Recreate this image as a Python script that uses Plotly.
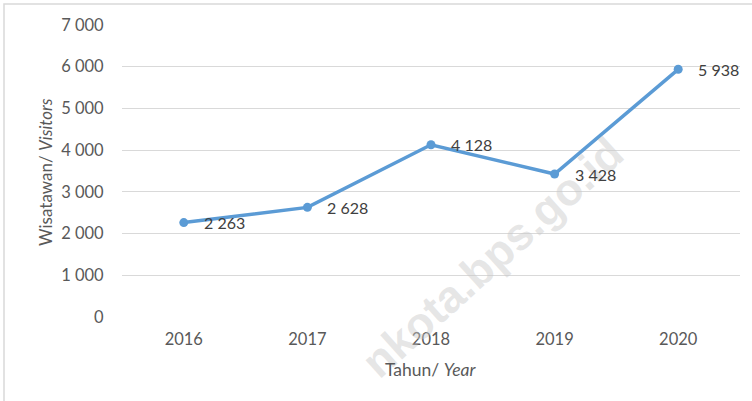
import plotly.graph_objects as go

years = ["2016", "2017", "2018", "2019", "2020"]
visitors = [2263, 2628, 4128, 3428, 5938]
y_tickvals = [0, 1000, 2000, 3000, 4000, 5000, 6000, 7000]
y_ticktext = ["0", "1 000", "2 000", "3 000", "4 000", "5 000", "6 000", "7 000"]
value_labels = ["2 263", "2 628", "4 128", "3 428", "5 938"]

FONT = "Lato"

fig = go.Figure()
fig.add_trace(go.Scatter(
    x=years, y=visitors, mode="lines+markers",
    line=dict(color="#5B9BD5", width=3.5),
    marker=dict(color="#5B9BD5", size=9),
    cliponaxis=False, showlegend=False, hoverinfo="skip",
))

annotations = [
    dict(text="<b>nkota.bps.go.id</b>", xref="paper", yref="paper",
         x=(492 - 122) / 618, y=(317 - 257) / 292, showarrow=False,
         textangle=-42,
         font=dict(family="Liberation Sans", size=45, color="rgba(200,200,200,0.45)"),
         xanchor="center", yanchor="middle"),
]
annotations += [
    dict(x=i, y=v, xref="x", yref="y", text=lbl, showarrow=False,
         xanchor="left", yanchor="middle", xshift=18,
         font=dict(family=FONT, size=16, color="#404040"))
    for i, (v, lbl) in enumerate(zip(visitors, value_labels))
]
annotations += [
    dict(text="Tahun/ <i>Year</i>", xref="paper", yref="paper",
         x=(430 - 122) / 618, y=-(369 - 317) / 292, showarrow=False,
         font=dict(family=FONT, size=17.5, color="#595959"),
         xanchor="center", yanchor="middle"),
    dict(text="Wisatawan/ <i>Visitors</i>", xref="paper", yref="paper",
         x=-(122 - 45) / 618, y=(317 - 172) / 292, showarrow=False,
         textangle=-90,
         font=dict(family=FONT, size=17, color="#595959"),
         xanchor="center", yanchor="middle"),
]

fig.update_layout(
    width=752, height=401,
    margin=dict(l=122, r=12, t=25, b=84),
    paper_bgcolor="white", plot_bgcolor="white",
    font=dict(family=FONT, color="#595959", size=16),
    xaxis=dict(
        type="category", range=[-0.5, 4.5],
        showgrid=False, zeroline=False, showline=False,
        ticks="outside", ticklen=7, tickcolor="rgba(0,0,0,0)",
        tickfont=dict(family=FONT, size=16.5, color="#595959"),
    ),
    yaxis=dict(
        range=[0, 7000], tickvals=y_tickvals, ticktext=y_ticktext,
        showgrid=True, gridcolor="#D9D9D9", gridwidth=1,
        zeroline=False, showline=False,
        ticks="outside", ticklen=14, tickcolor="rgba(0,0,0,0)",
        tickfont=dict(family=FONT, size=16.5, color="#595959"),
    ),
    shapes=[dict(type="rect", xref="paper", yref="paper",
                 x0=-118 / 618, x1=1.1, y0=-0.5, y1=1 + 21 / 292,
                 line=dict(color="#D9D9D9", width=1.5), layer="below")],
    annotations=annotations,
)

fig.write_html("out.html", config={"displayModeBar": False},
               post_script="document.body.style.margin='0';document.body.style.padding='0';")
